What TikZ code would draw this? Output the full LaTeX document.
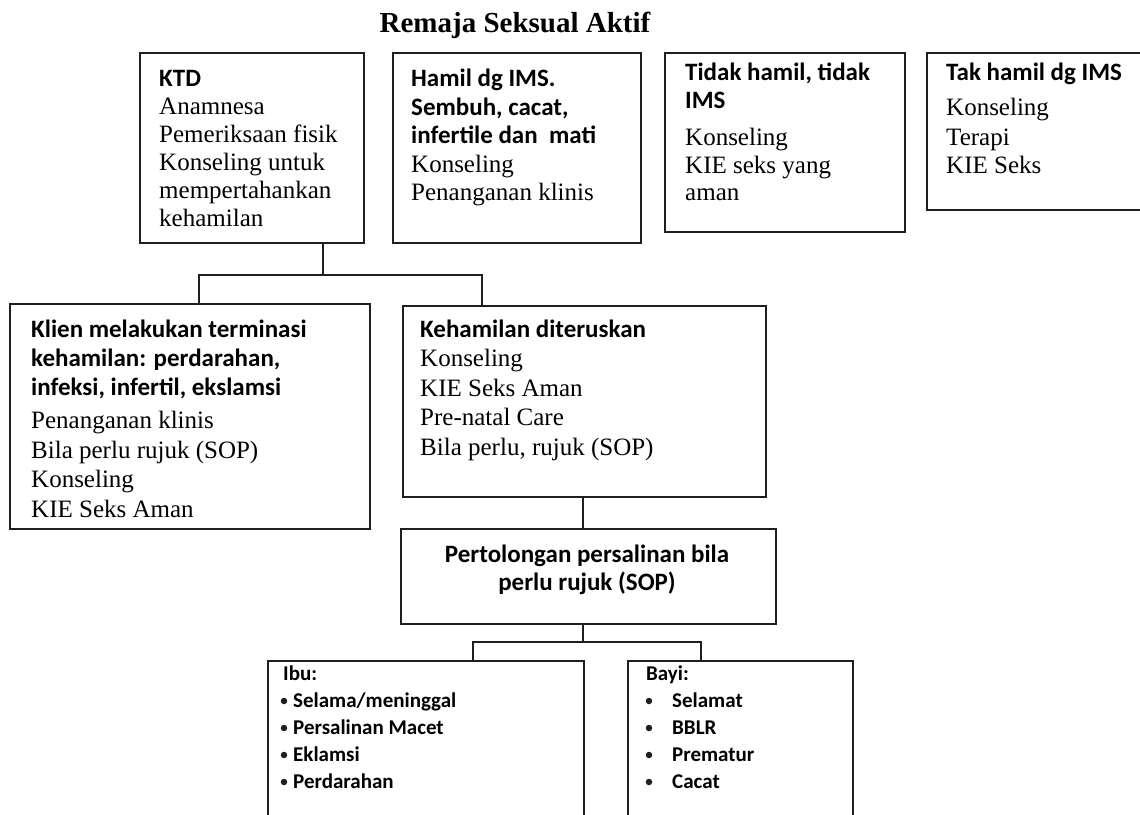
\documentclass[tikz,border=0pt]{standalone}
\usepackage{fontspec}
\setmainfont{Liberation Serif}
\newfontfamily\calfont{Carlito}
\tikzset{
  box/.style={draw=black!88, line width=1.8pt, inner sep=0pt, anchor=north west},
  link/.style={draw=black!88, line width=1.8pt},
  reg/.style={anchor=base west, inner sep=0pt, font=\fontsize{25}{28}\selectfont},
  bld/.style={anchor=base west, inner sep=0pt, font=\fontsize{25}{28}\calfont\bfseries},
  bldc/.style={anchor=base, inner sep=0pt, font=\fontsize{25}{28}\calfont\bfseries},
  sml/.style={anchor=base west, inner sep=0pt, font=\fontsize{21}{25}\calfont\bfseries},
  dot/.style={circle, fill=black!88, inner sep=0pt, minimum size=6.5pt},
}
\begin{document}
\begin{tikzpicture}[x=1pt,y=-1pt]
\useasboundingbox (0,0) rectangle (1140,814);
\fill[white] (0,0) rectangle (1140,814);

% title
\node[anchor=base, inner sep=0pt, font=\fontsize{29}{32}\selectfont\bfseries] (title) at (515,32) {Remaja Seksual Aktif};

% boxes
\node[box, minimum width=224pt, minimum height=190pt] (ktd) at (139,52) {};
\node[box, minimum width=248pt, minimum height=190pt] (ims) at (392,52) {};
\node[box, minimum width=240pt, minimum height=179pt] (tdk) at (664,52) {};
\node[box, minimum width=230pt, minimum height=157pt] (tak) at (926,52) {};
\node[box, minimum width=360pt, minimum height=225pt] (klien) at (9,303) {};
\node[box, minimum width=363pt, minimum height=191pt] (lanjut) at (402,305) {};
\node[box, minimum width=375pt, minimum height=95pt] (tolong) at (400,528) {};
\node[box, minimum width=316pt, minimum height=175pt] (ibu) at (267,660) {};
\node[box, minimum width=225pt, minimum height=175pt] (bayi) at (627,660) {};

% connector junctions
\coordinate (c1) at (323,275);
\coordinate (jl) at (199,275);
\coordinate (jr) at (482,275);
\coordinate (c2) at (583,512);
\coordinate (c3) at (583,642);
\coordinate (kl) at (473,642);
\coordinate (kr) at (701,642);

\draw[link] (ktd.south -| c1) -- (c1);
\draw[link] (klien.north -| jl) -- (jl) -- (jr) -- (lanjut.north -| jr);
\draw[link] (lanjut.south -| c2) -- (tolong.north -| c2);
\draw[link] (tolong.south -| c3) -- (c3);
\draw[link] (ibu.north -| kl) -- (kl) -- (kr) -- (bayi.north -| kr);

% KTD
\node[bld] (ktd1) at (159,86) {KTD};
\node[reg] (ktd2) at (159,114) {Anamnesa};
\node[reg] (ktd3) at (159,142) {Pemeriksaan fisik};
\node[reg] (ktd4) at (159,170) {Konseling untuk};
\node[reg] (ktd5) at (159,198) {mempertahankan};
\node[reg] (ktd6) at (159,226) {kehamilan};

% Hamil dg IMS
\node[bld] (ims1) at (411,86) {Hamil dg IMS.};
\node[bld] (ims2) at (411,115) {Sembuh, cacat,};
\node[bld] (ims3) at (411,143) {infertile dan\ \ mati};
\node[reg] (ims4) at (411,172) {Konseling};
\node[reg] (ims5) at (411,200) {Penanganan klinis};

% Tidak hamil, tidak IMS
\node[bld] (tdk1) at (685,80) {Tidak hamil, tidak};
\node[bld] (tdk2) at (685,108) {IMS};
\node[reg] (tdk3) at (685,145) {Konseling};
\node[reg] (tdk4) at (685,173) {KIE seks yang};
\node[reg] (tdk5) at (685,200) {aman};

% Tak hamil dg IMS
\node[bld] (tak1) at (946,80) {Tak hamil dg IMS};
\node[reg] (tak2) at (946,115) {Konseling};
\node[reg] (tak3) at (946,145) {Terapi};
\node[reg] (tak4) at (946,173) {KIE Seks};

% Klien melakukan terminasi
\node[bld] (kl1) at (31,337) {Klien melakukan terminasi};
\node[bld] (kl2) at (31,366) {kehamilan: perdarahan,};
\node[bld] (kl3) at (31,395) {infeksi, infertil, ekslamsi};
\node[reg] (kl4) at (31,428) {Penanganan klinis};
\node[reg] (kl5) at (31,458) {Bila perlu rujuk (SOP)};
\node[reg] (kl6) at (31,487) {Konseling};
\node[reg] (kl7) at (31,517) {KIE Seks Aman};

% Kehamilan diteruskan
\node[bld] (ln1) at (420,337) {Kehamilan diteruskan};
\node[reg] (ln2) at (420,366) {Konseling};
\node[reg] (ln3) at (420,396) {KIE Seks Aman};
\node[reg] (ln4) at (420,425) {Pre-natal Care};
\node[reg] (ln5) at (420,455) {Bila perlu, rujuk (SOP)};

% Pertolongan persalinan
\node[bldc] (tl1) at (587,562) {Pertolongan persalinan bila};
\node[bldc] (tl2) at (587,590) {perlu rujuk (SOP)};

% Ibu
\node[sml] (ibu0) at (283,680) {Ibu:};
\foreach \t [count=\i] in {Selama/meninggal, Persalinan Macet, Eklamsi, Perdarahan} {
  \pgfmathsetmacro{\yy}{680+27*\i}
  \node[dot] (ibub\i) at (284,\yy-6) {};
  \node[sml] (ibut\i) at (293,\yy) {\t};
}

% Bayi
\node[sml] (bayi0) at (646,680) {Bayi:};
\foreach \t [count=\i] in {Selamat, BBLR, Prematur, Cacat} {
  \pgfmathsetmacro{\yy}{680+27*\i}
  \node[dot] (bayib\i) at (649,\yy-6) {};
  \node[sml] (bayit\i) at (672,\yy) {\t};
}
\end{tikzpicture}
\end{document}
